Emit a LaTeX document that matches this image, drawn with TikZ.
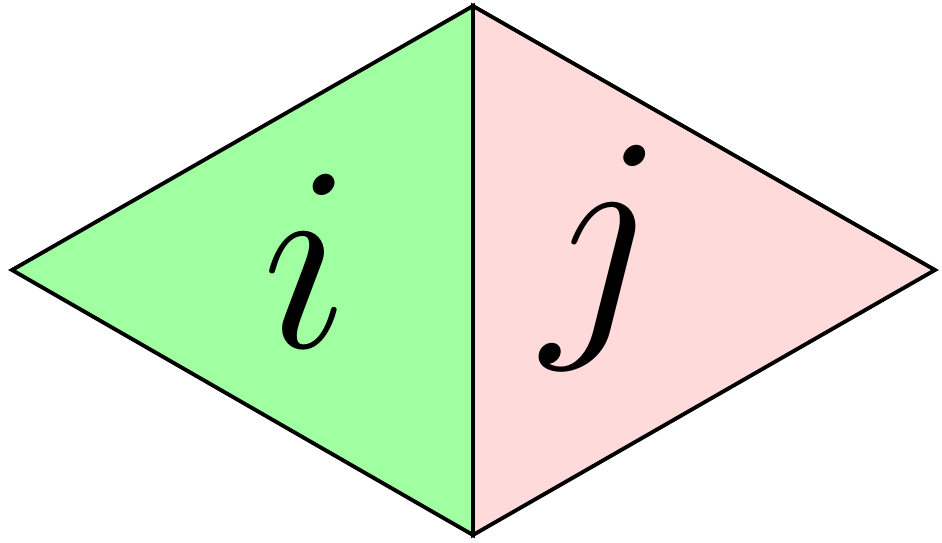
\RequirePackage{fix-cm}
\documentclass[tikz,border=0pt]{standalone}
\usepackage{xcolor}
\usepackage{tikz}
\usetikzlibrary{positioning}
\definecolor{leafgreen}{HTML}{A0FFA0}
\definecolor{blush}{HTML}{FFDADA}
\tikzset{
  facetri/.style={draw=black, fill=#1, line width=1.1pt, line join=miter},
  facetri/.default=leafgreen,
  facelabel/.style={anchor=base, inner sep=0pt,
    font=\fontsize{75}{90}\selectfont},
}
\begin{document}
\begin{tikzpicture}[x=0.01cm, y=-0.01cm]
\useasboundingbox (0,0) rectangle (942,542);
\coordinate (west) at (12,270);
\coordinate (north) at (473,6);
\coordinate (south) at (473,535);
\coordinate (east) at (935,270);
\draw[facetri] (west) -- (north) -- (south) -- cycle;
\draw[facetri=blush] (north) -- (east) -- (south) -- cycle;
\node[facelabel] (lbli) at (307,347) {$i$};
\node[facelabel] (lblj) at (603,318) {$j$};
\end{tikzpicture}
\end{document}
